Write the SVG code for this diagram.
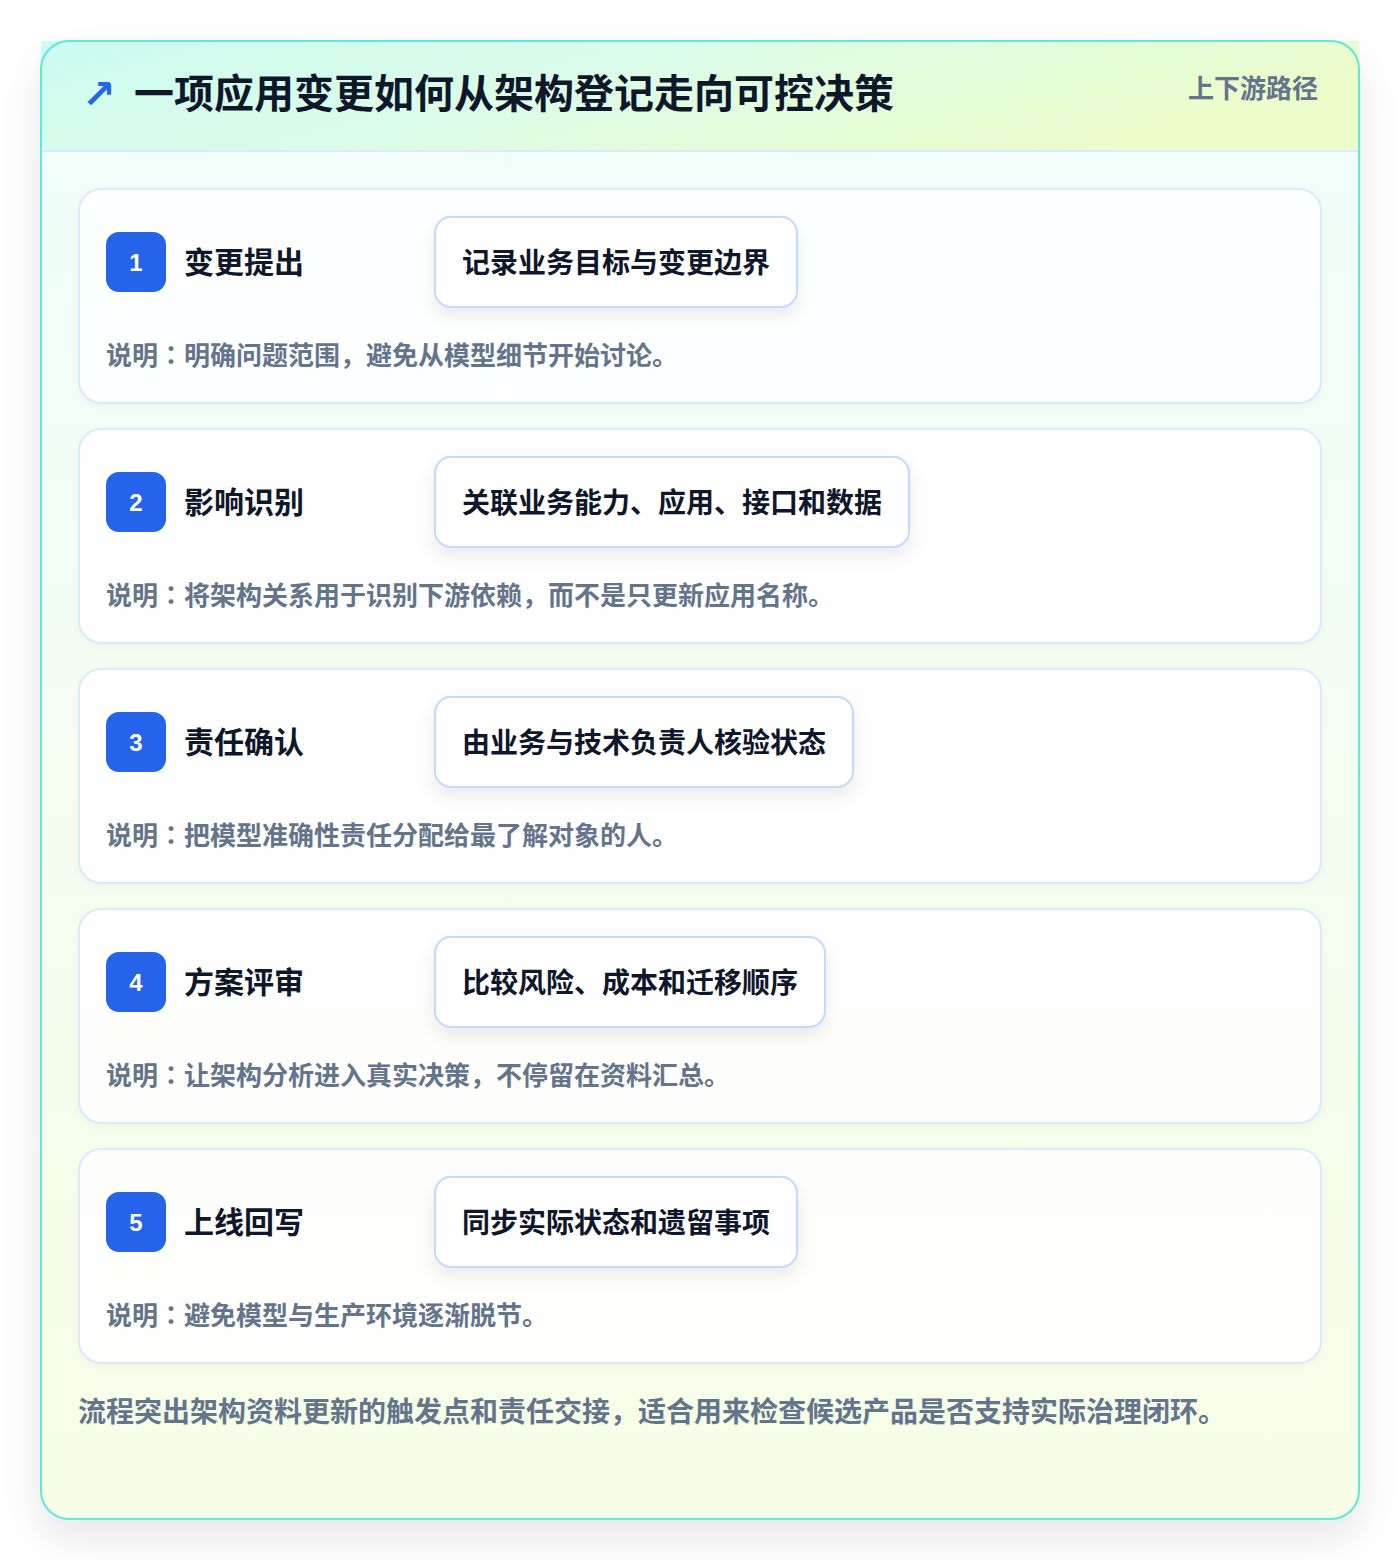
<svg xmlns="http://www.w3.org/2000/svg" width="1400" height="1560" viewBox="0 0 1400 1560">
<defs>
<linearGradient id="hdr" x1="0" y1="0" x2="1" y2="0.3">
<stop offset="0" stop-color="#ccfbf1"/>
<stop offset="0.5" stop-color="#dcfce7"/>
<stop offset="1" stop-color="#ecfccb"/>
</linearGradient>
<linearGradient id="body" x1="0" y1="0" x2="0" y2="1">
<stop offset="0" stop-color="#f0fdfa"/>
<stop offset="1" stop-color="#f7fee7"/>
</linearGradient>
<filter id="outerShadow" x="-10%" y="-10%" width="120%" height="125%">
<feDropShadow dx="0" dy="18" stdDeviation="20" flood-color="#0f172a" flood-opacity="0.10"/>
</filter>
<filter id="pillShadow" x="-10%" y="-30%" width="120%" height="180%">
<feDropShadow dx="0" dy="8" stdDeviation="8" flood-color="#0f172a" flood-opacity="0.08"/>
</filter>
<filter id="cardShadow" x="-5%" y="-10%" width="110%" height="130%">
<feDropShadow dx="0" dy="2" stdDeviation="3" flood-color="#0f172a" flood-opacity="0.03"/>
</filter>
</defs>
<style>
.cjk{font-family:"Noto Sans CJK SC","Noto Sans",sans-serif;font-weight:700}
.pc{font-family:"Noto Sans CJK TC","Noto Sans CJK SC",sans-serif}
.title{font-size:40px;fill:#0f172a}
.tag{font-size:26px;fill:#64748b}
.card{fill:#ffffff;fill-opacity:0.88;stroke:#dbeafe;stroke-width:2}
.badge{fill:#2563eb}
.num{font-family:"Liberation Sans",Arial,sans-serif;font-weight:700;font-size:24px;fill:#ffffff}
.stitle{font-size:30px;fill:#0f172a}
.pill{fill:#ffffff;stroke:#bfdbfe;stroke-width:2}
.ptext{font-size:28px;fill:#0f172a}
.desc{font-size:26px;fill:#64748b}
.foot{font-size:28px;fill:#64748b}
</style>
<rect width="1400" height="1560" fill="#ffffff"/>
<g id="frame">
<rect x="41" y="41" width="1318" height="1478" rx="28" fill="url(#body)" filter="url(#outerShadow)"/>
<rect x="41" y="41" width="1318" height="110" fill="url(#hdr)"/>
<line x1="41" y1="151" x2="1359" y2="151" stroke="#dbeafe" stroke-width="2"/>
<rect x="41" y="41" width="1318" height="1478" rx="28" fill="none" stroke="#5eead4" stroke-width="2"/>
</g>
<g id="header">
<text x="82" y="108" font-family="DejaVu Sans,sans-serif" font-size="40" font-weight="700" fill="#2563eb">↗</text>
<text class="cjk title" x="134" y="108">一项应用变更如何从架构登记走向可控决策</text>
<text class="cjk tag" x="1318" y="98" text-anchor="end">上下游路径</text>
</g>
<g id="connectors"></g>
<g id="step1">
<rect class="card" x="79" y="189" width="1242" height="214" rx="22" filter="url(#cardShadow)"/>
<rect class="badge" x="106" y="232" width="60" height="60" rx="13"/>
<text class="num" x="136" y="271" text-anchor="middle">1</text>
<text class="cjk stitle" x="184" y="273">变更提出</text>
<rect class="pill" x="435" y="217" width="362" height="90" rx="16" filter="url(#pillShadow)"/>
<text class="cjk ptext" x="462" y="273">记录业务目标与变更边界</text>
<text class="cjk desc" x="106" y="365">说明<tspan class="pc">：</tspan>明确问题范围，避免从模型细节开始讨论。</text>
</g>
<g id="step2">
<rect class="card" x="79" y="429" width="1242" height="214" rx="22" filter="url(#cardShadow)"/>
<rect class="badge" x="106" y="472" width="60" height="60" rx="13"/>
<text class="num" x="136" y="511" text-anchor="middle">2</text>
<text class="cjk stitle" x="184" y="513">影响识别</text>
<rect class="pill" x="435" y="457" width="474" height="90" rx="16" filter="url(#pillShadow)"/>
<text class="cjk ptext" x="462" y="513">关联业务能力、应用、接口和数据</text>
<text class="cjk desc" x="106" y="605">说明<tspan class="pc">：</tspan>将架构关系用于识别下游依赖，而不是只更新应用名称。</text>
</g>
<g id="step3">
<rect class="card" x="79" y="669" width="1242" height="214" rx="22" filter="url(#cardShadow)"/>
<rect class="badge" x="106" y="712" width="60" height="60" rx="13"/>
<text class="num" x="136" y="751" text-anchor="middle">3</text>
<text class="cjk stitle" x="184" y="753">责任确认</text>
<rect class="pill" x="435" y="697" width="418" height="90" rx="16" filter="url(#pillShadow)"/>
<text class="cjk ptext" x="462" y="753">由业务与技术负责人核验状态</text>
<text class="cjk desc" x="106" y="845">说明<tspan class="pc">：</tspan>把模型准确性责任分配给最了解对象的人。</text>
</g>
<g id="step4">
<rect class="card" x="79" y="909" width="1242" height="214" rx="22" filter="url(#cardShadow)"/>
<rect class="badge" x="106" y="952" width="60" height="60" rx="13"/>
<text class="num" x="136" y="991" text-anchor="middle">4</text>
<text class="cjk stitle" x="184" y="993">方案评审</text>
<rect class="pill" x="435" y="937" width="390" height="90" rx="16" filter="url(#pillShadow)"/>
<text class="cjk ptext" x="462" y="993">比较风险、成本和迁移顺序</text>
<text class="cjk desc" x="106" y="1085">说明<tspan class="pc">：</tspan>让架构分析进入真实决策，不停留在资料汇总。</text>
</g>
<g id="step5">
<rect class="card" x="79" y="1149" width="1242" height="214" rx="22" filter="url(#cardShadow)"/>
<rect class="badge" x="106" y="1192" width="60" height="60" rx="13"/>
<text class="num" x="136" y="1231" text-anchor="middle">5</text>
<text class="cjk stitle" x="184" y="1233">上线回写</text>
<rect class="pill" x="435" y="1177" width="362" height="90" rx="16" filter="url(#pillShadow)"/>
<text class="cjk ptext" x="462" y="1233">同步实际状态和遗留事项</text>
<text class="cjk desc" x="106" y="1325">说明<tspan class="pc">：</tspan>避免模型与生产环境逐渐脱节。</text>
</g>
<g id="footer">
<text class="cjk foot" x="78" y="1422">流程突出架构资料更新的触发点和责任交接，适合用来检查候选产品是否支持实际治理闭环。</text>
</g>
</svg>
